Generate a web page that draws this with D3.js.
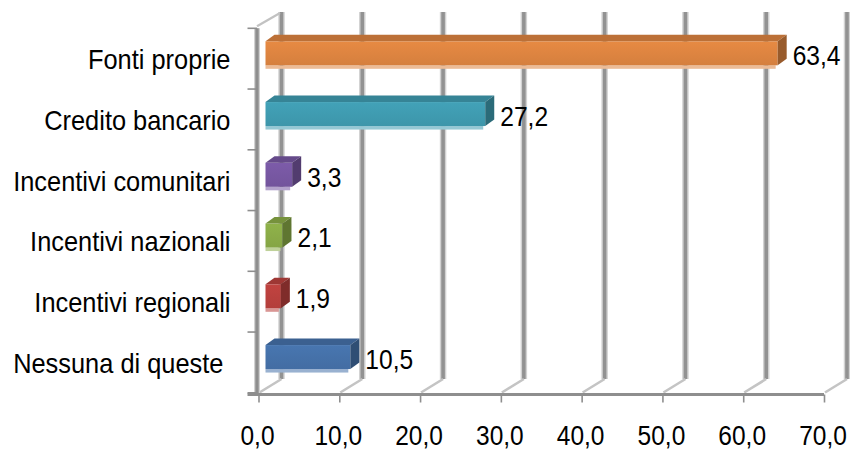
<!DOCTYPE html>
<html>
<head>
<meta charset="utf-8">
<script src="https://cdn.jsdelivr.net/npm/d3@7"></script>
<style>
  html, body { margin: 0; padding: 0; background: #fff; }
  svg { display: block; }
  text { font-family: "Liberation Sans", Arial, sans-serif; fill: #000; white-space: pre; }
</style>
</head>
<body>
<svg id="chart" width="850" height="450"></svg>
<script>
// ---- data ----
const categories = ["Fonti proprie", "Credito bancario", "Incentivi comunitari", "Incentivi nazionali", "Incentivi regionali", "Nessuna di queste "];
const values = [63.4, 27.2, 3.3, 2.1, 1.9, 10.5];
const tickValues = [0, 10, 20, 30, 40, 50, 60, 70];
const palette = ["#dd8440", "#3f9bb0", "#7757a2", "#8aab47", "#b9403d", "#4571a9"];

// ---- layout ----
const svg = d3.select("#chart");
const x = d3.scaleLinear().domain([0, 70]).range([258.5, 824]);
const y = d3.scaleBand().domain(categories).range([28.3, 392.8]);
const floorY = 394.5;
const depth = { dx: 23, dy: -15.5 };
const topY = 12;
const fmt = d => d.toFixed(1).replace(".", ",");

// back wall gridlines
const grid = svg.append("g");
grid.selectAll("line.gh").data(tickValues).join("line")
  .attr("x1", d => x(d) + depth.dx).attr("x2", d => x(d) + depth.dx)
  .attr("y1", topY).attr("y2", floorY + depth.dy)
  .attr("stroke", "#d2d2d2").attr("stroke-width", 6.5);
grid.selectAll("line.gd").data(tickValues).join("line")
  .attr("x1", d => x(d) + depth.dx).attr("x2", d => x(d) + depth.dx)
  .attr("y1", topY).attr("y2", floorY + depth.dy)
  .attr("stroke", "#929292").attr("stroke-width", 3.6);
// floor diagonals
grid.selectAll("line.fd").data(tickValues).join("line")
  .attr("x1", d => x(d) + 1).attr("y1", floorY - 2)
  .attr("x2", d => x(d) + depth.dx).attr("y2", floorY + depth.dy)
  .attr("stroke", "#c4c4c4").attr("stroke-width", 2.6);

// left wall front edge and top diagonal
const wallX = x(0) - 1.5;
svg.append("line").attr("x1", wallX).attr("x2", wallX)
  .attr("y1", y.range()[0]).attr("y2", floorY)
  .attr("stroke", "#d2d2d2").attr("stroke-width", 6);
svg.append("line").attr("x1", wallX).attr("x2", wallX)
  .attr("y1", y.range()[0]).attr("y2", floorY)
  .attr("stroke", "#8e8e8e").attr("stroke-width", 3.4);
svg.append("line").attr("x1", wallX).attr("y1", y.range()[0] - 2)
  .attr("x2", wallX + depth.dx).attr("y2", topY + 1)
  .attr("stroke", "#c2c2c2").attr("stroke-width", 2.2);

// category ticks
const bounds = categories.map(c => y(c)).concat([y.range()[1]]);
svg.selectAll("line.ct").data(bounds).join("line")
  .attr("x1", 247.5).attr("x2", wallX)
  .attr("y1", d => d).attr("y2", d => d)
  .attr("stroke", "#8e8e8e").attr("stroke-width", 1.6);

// bars (3D)
const bd = { dx: 9, dy: -6.5 };
const bars = svg.append("g");
categories.forEach((c, i) => {
  const col = palette[i];
  const yb = y(c);
  const ft = yb + 13, fb = yb + 37;
  const x0 = x(0) + 7, x1 = x(values[i]) + 7;
  const topCol = d3.color(col).darker(0.45);
  const sideCol = d3.color(col).darker(1.05);
  const stripCol = d3.interpolateRgb(col, "#ffffff")(0.45);
  bars.append("rect").attr("x", x0).attr("y", fb).attr("width", Math.max(x1 - x0 - 2, 1)).attr("height", 3.5)
    .attr("fill", stripCol);
  const gid = "g" + i;
  const gr = svg.append("defs").append("linearGradient").attr("id", gid)
    .attr("x1", 0).attr("y1", 0).attr("x2", 0).attr("y2", 1);
  gr.append("stop").attr("offset", 0).attr("stop-color", d3.color(col).brighter(0.12));
  gr.append("stop").attr("offset", 1).attr("stop-color", d3.color(col).darker(0.1));
  bars.append("rect").attr("x", x0).attr("y", ft).attr("width", x1 - x0).attr("height", fb - ft)
    .attr("fill", `url(#${gid})`);
  bars.append("polygon")
    .attr("points", [[x0, ft], [x1, ft], [x1 + bd.dx, ft + bd.dy], [x0 + bd.dx, ft + bd.dy]].map(p => p.join(",")).join(" "))
    .attr("fill", topCol);
  bars.append("polygon")
    .attr("points", [[x1, ft], [x1 + bd.dx, ft + bd.dy], [x1 + bd.dx, fb + bd.dy], [x1, fb]].map(p => p.join(",")).join(" "))
    .attr("fill", sideCol);
  // value label
  svg.append("text")
    .attr("transform", `translate(${x(values[i]) + 22},${yb + y.bandwidth() / 2 + 6.5}) scale(1,1.1)`)
    .attr("font-size", 24.6)
    .text(fmt(values[i]));
  // category label
  svg.append("text")
    .attr("transform", `translate(230.5,${yb + y.bandwidth() / 2 + 10.5}) scale(1,1.1)`)
    .attr("text-anchor", "end")
    .attr("font-size", 25.4)
    .text(c);
});

// x axis
const xAxis = d3.axisBottom(x).tickValues(tickValues).tickFormat(fmt).tickSize(8).tickPadding(0);
const ax = svg.append("g").attr("transform", `translate(0,${floorY})`).call(xAxis);
ax.select(".domain").remove();
ax.append("line").attr("x1", 247.5).attr("x2", x(70)).attr("y1", 0).attr("y2", 0)
  .attr("stroke", "#8e8e8e").attr("stroke-width", 2.8);
ax.selectAll(".tick line").attr("stroke", "#8e8e8e").attr("stroke-width", 1.6);
ax.selectAll(".tick text")
  .attr("y", null).attr("dy", null)
  .attr("transform", "translate(-1.5,50.8) scale(1,1.1)")
  .attr("font-size", 24.5)
  .attr("font-family", "Liberation Sans, Arial, sans-serif")
  .attr("fill", "#000");
</script>
</body>
</html>
